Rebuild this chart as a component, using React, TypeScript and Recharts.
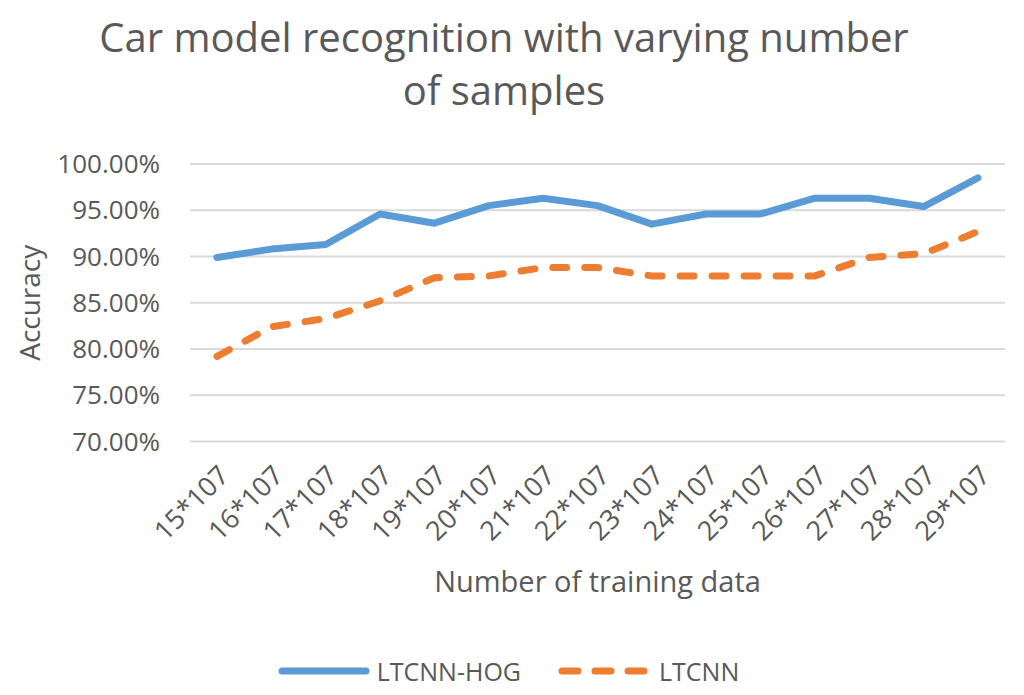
import React from 'react';
import { LineChart, Line, XAxis, YAxis, CartesianGrid, Legend, Label } from 'recharts';

const categories = ['15*107', '16*107', '17*107', '18*107', '19*107', '20*107', '21*107', '22*107', '23*107', '24*107', '25*107', '26*107', '27*107', '28*107', '29*107'];
const hogValues = [89.9, 90.8, 91.3, 94.6, 93.6, 95.5, 96.3, 95.5, 93.5, 94.6, 94.6, 96.3, 96.3, 95.4, 98.5];
const ltcnnValues = [79.2, 82.4, 83.3, 85.2, 87.7, 87.9, 88.8, 88.8, 87.9, 87.9, 87.9, 87.9, 89.9, 90.3, 92.7];
const yTicks = [70, 75, 80, 85, 90, 95, 100];
const seriesNames = ['LTCNN-HOG', 'LTCNN'];
const titleLines = ['Car model recognition with varying number', 'of samples'];
const xTitle = 'Number of training data';
const yTitle = 'Accuracy';

const data = categories.map((c, i) => ({ name: c, hog: hogValues[i], ltcnn: ltcnnValues[i] }));

const FONT = '"Open Sans", sans-serif';
const TEXT = '#595959';
const BLUE = '#5B9BD5';
const ORANGE = '#ED7D31';

const LegendContent = () => (
  <div style={{ display: 'flex', justifyContent: 'center', alignItems: 'center', fontFamily: FONT, fontSize: 25, color: TEXT, marginLeft: -8 }}>
    <svg width={94} height={14} style={{ marginRight: 6 }}>
      <line x1={5} y1={7} x2={89} y2={7} stroke={BLUE} strokeWidth={7} strokeLinecap="round" />
    </svg>
    <span style={{ marginRight: 36 }}>{seriesNames[0]}</span>
    <svg width={94} height={14} style={{ marginRight: 8 }}>
      <line x1={5} y1={7} x2={89} y2={7} stroke={ORANGE} strokeWidth={7} strokeLinecap="round" strokeDasharray="16 17" />
    </svg>
    <span>{seriesNames[1]}</span>
  </div>
);

const YLabel = (props: any) => {
  const vb = props.viewBox || {};
  const cy = vb.y + vb.height / 2;
  const cx = 29;
  return (
    <text x={cx} y={cy} transform={`rotate(-90, ${cx}, ${cy})`} textAnchor="middle" dominantBaseline="central" fill={TEXT} fontFamily={FONT} fontSize={28}>
      {yTitle}
    </text>
  );
};

export default function App() {
  return (
    <div style={{ position: 'absolute', left: 0, top: 0, width: 1024, height: 695, background: '#fff' }}>
      <div style={{ position: 'absolute', left: 0, top: 10, width: 1008, textAlign: 'center', fontFamily: FONT, fontSize: 40, lineHeight: '53px', color: TEXT }}>
        {titleLines.map((t) => (
          <div key={t}>{t}</div>
        ))}
      </div>
      <LineChart width={1024} height={695} data={data} margin={{ top: 164, right: 19, bottom: 0, left: 0 }}>
        <CartesianGrid vertical={false} stroke="#D9D9D9" strokeWidth={2} />
        <XAxis
          dataKey="name"
          height={253.5}
          padding={{ left: 27, right: 27 }}
          axisLine={false}
          tickLine={false}
          tickSize={0}
          tickMargin={22}
          interval={0}
          angle={-45}
          textAnchor="end"
          tick={{ fill: TEXT, fontFamily: FONT, fontSize: 27 }}
        >
          <Label value={xTitle} position="insideBottom" offset={103} fill={TEXT} fontFamily={FONT} fontSize={29} />
        </XAxis>
        <YAxis
          width={190}
          domain={[70, 100]}
          ticks={yTicks}
          axisLine={false}
          tickLine={false}
          tickSize={0}
          tickMargin={30}
          tickFormatter={(v: number) => v.toFixed(2) + '%'}
          tick={{ fill: TEXT, fontFamily: FONT, fontSize: 26 }}
        >
          <Label content={YLabel} />
        </YAxis>
        <Line type="linear" dataKey="hog" name={seriesNames[0]} stroke={BLUE} strokeWidth={7} strokeLinejoin="round" strokeLinecap="round" dot={false} activeDot={false} isAnimationActive={false} />
        <Line type="linear" dataKey="ltcnn" name={seriesNames[1]} stroke={ORANGE} strokeWidth={7} strokeLinejoin="round" strokeLinecap="round" strokeDasharray="14 18" dot={false} activeDot={false} isAnimationActive={false} />
        <Legend verticalAlign="middle" align="center" content={LegendContent} wrapperStyle={{ top: 654, left: 0, width: 1024, height: 30 }} />
      </LineChart>
    </div>
  );
}
